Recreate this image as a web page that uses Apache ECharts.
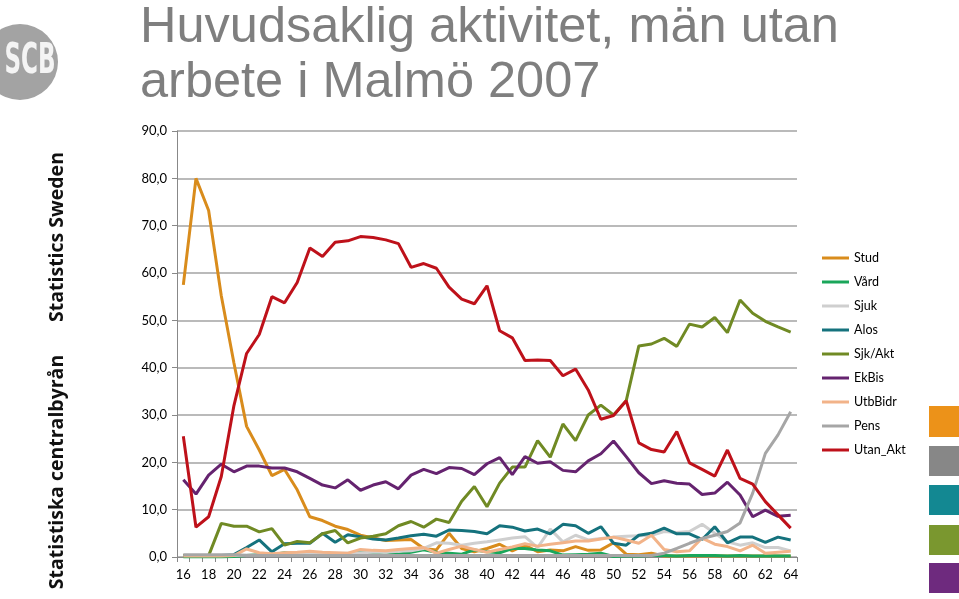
<!DOCTYPE html>
<html><head><meta charset="utf-8">
<script src="https://cdn.jsdelivr.net/npm/echarts@6/dist/echarts.min.js"></script>
<style>html,body{margin:0;padding:0;background:#fff}#c{width:959px;height:599px}</style>
</head><body><div id="c"></div>
<script>
var ages = ['16','17','18','19','20','21','22','23','24','25','26','27','28','29','30','31','32','33','34','35','36','37','38','39','40','41','42','43','44','45','46','47','48','49','50','51','52','53','54','55','56','57','58','59','60','61','62','63','64'];
var seriesNames = ['Stud','Vård','Sjuk','Alos','Sjk/Akt','EkBis','UtbBidr','Pens','Utan_Akt'];
var stud = [57.5,80.0,73.2,55.2,41.0,27.6,22.6,17.2,18.5,14.2,8.5,7.7,6.5,5.8,4.6,4.0,3.5,3.6,3.7,1.8,1.5,5.0,1.8,1.1,1.8,2.7,1.3,2.5,1.1,1.5,1.3,2.2,1.4,1.5,3.0,0.6,0.5,0.8,0.2,0.2,0.2,0.2,0.2,0.2,0.2,0.2,0.2,0.2,0.2];
var vard = [0,0,0,0,0.1,0.3,0.6,0.5,0.9,0.7,0.6,0.8,0.7,0.5,1.1,0.8,1.1,0.6,1.0,1.5,1.0,0.8,0.6,1.5,1.1,0.9,1.8,1.8,1.5,1.3,0.4,0.5,0.6,0.8,0.1,0.2,0.2,0.3,0.3,0.2,0.3,0.3,0.3,0.2,0.3,0.2,0.2,0.2,0.2];
var sjuk = [0.3,0.3,0.3,0.3,0.3,0.4,0.5,0.5,0.6,0.6,0.7,0.7,0.8,0.8,0.9,1.0,1.0,1.2,1.3,1.8,3.0,2.9,2.5,2.9,3.2,3.6,4.0,4.3,2.0,5.9,3.2,4.6,3.6,3.9,4.2,4.4,4.5,4.6,5.4,5.2,5.4,6.9,5.0,3.2,2.5,3.0,2.0,2.0,1.3];
var alos = [0.3,0.3,0.3,0.3,0.5,2.0,3.6,1.1,2.8,2.9,2.9,5.0,3.1,4.7,4.3,3.8,3.6,4.0,4.5,4.8,4.4,5.7,5.6,5.4,4.9,6.6,6.3,5.5,5.9,4.9,6.9,6.6,5.0,6.4,2.9,2.5,4.6,5.0,6.1,4.9,4.9,3.7,6.4,3.0,4.2,4.2,3.1,4.2,3.6];
var sjkakt = [0.3,0.3,0.3,7.1,6.5,6.5,5.3,6.0,2.5,3.3,3.0,4.9,5.6,3.0,4.0,4.4,4.9,6.6,7.5,6.3,8.0,7.3,11.8,14.9,10.6,15.6,19.0,19.0,24.6,21.1,28.1,24.6,30.0,32.1,30.0,33.0,44.6,45.0,46.2,44.5,49.2,48.6,50.6,47.4,54.3,51.5,49.8,48.6,47.5];
var ekbis = [16.3,13.3,17.3,19.6,18.0,19.2,19.2,18.8,18.8,18.0,16.6,15.2,14.6,16.3,14.1,15.2,15.9,14.4,17.3,18.5,17.6,18.9,18.7,17.4,19.7,21.0,17.4,21.2,19.8,20.1,18.3,18.0,20.3,21.8,24.5,21.2,17.8,15.5,16.1,15.6,15.4,13.2,13.5,15.8,13.1,8.5,9.9,8.6,8.8];
var utbbidr = [0.2,0.2,0.2,0.2,0.3,1.7,0.9,0.7,0.9,1.0,1.2,1.0,0.9,0.8,1.6,1.4,1.3,1.6,1.8,2.0,0.8,1.6,2.3,1.6,1.0,1.6,2.1,2.8,2.3,2.7,3.0,3.4,3.4,3.8,4.2,3.6,2.9,4.6,1.6,1.1,1.3,4.0,2.7,2.2,1.3,2.5,0.8,1.0,1.2];
var pens = [0.5,0.5,0.5,0.5,0.5,0.3,0.3,0.3,0.3,0.3,0.3,0.3,0.3,0.3,0.3,0.3,0.3,0.3,0.3,0.3,0.3,0.3,0.3,0.3,0.3,0.3,0.3,0.3,0.3,0.3,0.3,0.3,0.3,0.3,0.3,0.3,0.3,0.3,0.8,1.8,2.9,3.9,4.6,5.4,7.2,13.5,21.9,25.8,30.7];
var utan = [25.5,6.3,8.5,17.0,32.0,43.0,47.0,55.0,53.7,58.0,65.3,63.5,66.5,66.8,67.7,67.5,67.0,66.2,61.2,62.0,61.0,57.0,54.5,53.5,57.3,47.8,46.3,41.5,41.6,41.5,38.3,39.7,35.3,29.1,29.9,33.0,24.1,22.7,22.2,26.5,19.9,18.5,17.1,22.6,16.6,15.4,11.7,8.9,6.1];
var yTicks = [0,10,20,30,40,50,60,70,80,90];
var colors = ['#D98C1C','#1AA65A','#CFCFCF','#15727D','#708A24','#65236F','#F2B389','#A6A6A6','#BE111A'];
var dataList = [stud, vard, sjuk, alos, sjkakt, ekbis, utbbidr, pens, utan];

var chart = echarts.init(document.getElementById('c'), null, {renderer:'canvas'});
var series = seriesNames.map(function(n,i){
  return {name:n, type:'line', data:dataList[i], symbol:'none', smooth:false,
    lineStyle:{width:3, color:colors[i]}, itemStyle:{color:colors[i]}, z: 2+i};
});
var lab = 'Lato';
chart.setOption({
  animation:false,
  backgroundColor:'#ffffff',
  title:{text:'Huvudsaklig aktivitet, män utan\narbete i Malmö 2007', left:135, top:-4,
    textStyle:{fontFamily:'Liberation Sans', fontSize:50.5, fontWeight:'normal', color:'#7f7f7f', lineHeight:55}},
  grid:{left:177, right:162, top:131, bottom:42},
  legend:{orient:'vertical', left:817, top:246, icon:'rect', itemWidth:27, itemHeight:3, itemGap:10,
    textStyle:{fontFamily:lab, fontSize:12.5, color:'#000', lineHeight:14}, data:seriesNames},
  xAxis:{type:'category', data:ages, boundaryGap:true,
    axisLine:{lineStyle:{color:'#888', width:1}},
    axisTick:{show:true, interval:0, length:5, lineStyle:{color:'#888'}},
    axisLabel:{interval:1, color:'#000', fontFamily:lab, fontSize:13, margin:11}},
  yAxis:{type:'value', min:yTicks[0], max:yTicks[yTicks.length-1], interval:10,
    axisLine:{show:true, lineStyle:{color:'#888'}},
    axisTick:{show:true, length:5, lineStyle:{color:'#888'}},
    splitLine:{lineStyle:{color:'#a3a3a3', width:1.5}},
    axisLabel:{color:'#000', fontFamily:lab, fontSize:13, margin:10,
      formatter:function(v){return v.toFixed(1).replace('.',',');}}},
  series:series,
  graphic:[
    {type:'circle', shape:{cx:20, cy:62, r:38}, style:{fill:'#a3a3a3'}},
    {type:'text', x:30, y:62, scaleX:0.55, style:{text:'SCB', fill:'#f4f4f4', font:'bold 42px "DejaVu Sans"', textAlign:'center', textVerticalAlign:'middle'}},
    {type:'text', x:57, y:237, rotation:Math.PI/2, style:{text:'Statistics Sweden', fill:'#111', font:'bold 19.5px "Open Sans"', textAlign:'center', textVerticalAlign:'middle'}},
    {type:'text', x:57, y:472, rotation:Math.PI/2, style:{text:'Statistiska centralbyrån', fill:'#111', font:'bold 19.5px "Open Sans"', textAlign:'center', textVerticalAlign:'middle'}},
    {type:'rect', shape:{x:929, y:406, width:30, height:31}, style:{fill:'#EC9219'}},
    {type:'rect', shape:{x:929, y:446, width:30, height:30}, style:{fill:'#878787'}},
    {type:'rect', shape:{x:929, y:485, width:30, height:30}, style:{fill:'#138892'}},
    {type:'rect', shape:{x:929, y:525, width:30, height:30}, style:{fill:'#7A972F'}},
    {type:'rect', shape:{x:929, y:563, width:30, height:30}, style:{fill:'#6E2A7E'}}
  ]
});
</script></body></html>
